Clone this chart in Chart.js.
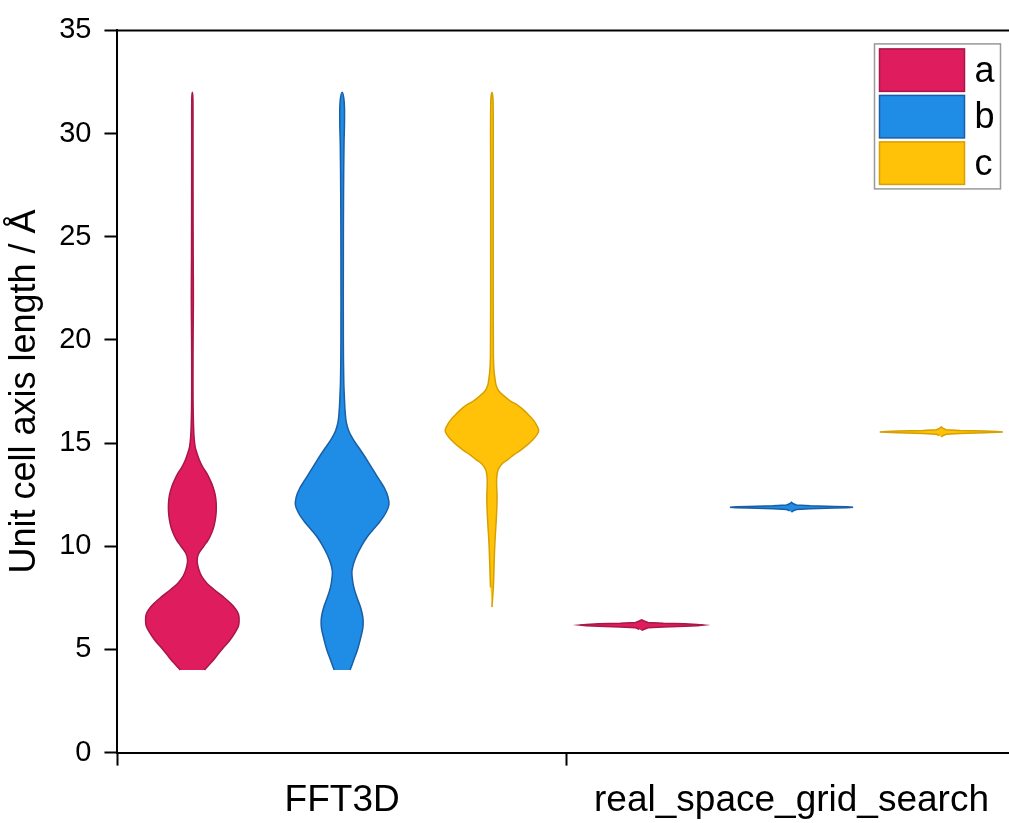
<!DOCTYPE html>
<html>
<head>
<meta charset="utf-8">
<script src="https://cdn.jsdelivr.net/npm/chart.js@4.4.1/dist/chart.umd.min.js"></script>
<style>
  html, body { margin: 0; padding: 0; background: #fff; }
  #wrap { width: 1009px; height: 823px; }
</style>
</head>
<body>
<div id="wrap"><canvas id="violinChart"></canvas></div>
<script>
const categories = ['FFT3D', 'real_space_grid_search'];
const seriesNames = ['a', 'b', 'c'];
const fillColors = ['#DE1C5E', '#1F8CE6', '#FFC208'];
const edgeColors = ['#A8164B', '#1A5EA6', '#D6A000'];
const yTicks = [0, 5, 10, 15, 20, 25, 30, 35];

// violin outlines: axis length (Å) and relative half-width (1 = widest)
const fftAy = [4.0, 4.26, 4.51, 4.83, 5.15, 5.47, 5.8, 6.12, 6.36, 6.68, 6.93, 7.25, 7.57, 7.89, 8.21, 8.54, 8.86, 9.18, 9.42, 9.66, 9.99, 10.31, 10.63, 10.96, 11.28, 11.68, 12.08, 12.48, 12.89, 13.21, 13.53, 13.85, 14.18, 14.5, 14.82, 15.3, 16.1, 17.1, 18.5, 20.0, 22.0, 24.0, 27.0, 30.0, 31.7, 32.0];
const fftAw = [0.26, 0.36, 0.46, 0.57, 0.69, 0.81, 0.91, 0.985, 1.0, 0.99, 0.935, 0.81, 0.65, 0.47, 0.31, 0.2, 0.14, 0.107, 0.107, 0.14, 0.24, 0.34, 0.41, 0.46, 0.49, 0.51, 0.51, 0.49, 0.44, 0.38, 0.31, 0.22, 0.15, 0.1, 0.06, 0.036, 0.022, 0.015, 0.014, 0.016, 0.022, 0.018, 0.015, 0.014, 0.012, 0];

const fftBy = [4.0, 4.5, 5.0, 5.5, 6.0, 6.3, 6.6, 7.0, 7.5, 8.0, 8.5, 8.8, 9.2, 9.6, 10.0, 10.4, 10.8, 11.2, 11.6, 12.0, 12.4, 12.8, 13.2, 13.6, 14.0, 14.4, 14.8, 15.2, 15.6, 16.0, 16.5, 17.2, 18.0, 20.0, 24.0, 27.0, 29.5, 30.5, 31.5, 32.0];
const fftBw = [0.17, 0.25, 0.33, 0.39, 0.44, 0.45, 0.44, 0.4, 0.32, 0.25, 0.215, 0.21, 0.25, 0.32, 0.41, 0.52, 0.66, 0.81, 0.93, 1.0, 0.98, 0.91, 0.8, 0.69, 0.58, 0.47, 0.35, 0.23, 0.14, 0.09, 0.065, 0.048, 0.035, 0.026, 0.026, 0.03, 0.04, 0.05, 0.045, 0];

const fftCy = [7.05, 8.0, 9.0, 10.0, 10.8, 11.6, 12.4, 13.2, 13.7, 14.0, 14.2, 14.45, 14.65, 14.9, 15.15, 15.4, 15.6, 15.85, 16.1, 16.35, 16.6, 16.85, 17.05, 17.3, 17.55, 17.8, 18.05, 18.5, 19.2, 24.0, 28.0, 31.5, 32.0];
const fftCw = [0, 0.03, 0.045, 0.06, 0.08, 0.1, 0.11, 0.1, 0.13, 0.22, 0.34, 0.48, 0.61, 0.75, 0.87, 0.96, 1.0, 0.96, 0.89, 0.79, 0.68, 0.54, 0.39, 0.25, 0.14, 0.09, 0.07, 0.045, 0.032, 0.027, 0.027, 0.025, 0];

const rsgsAy = [5.92, 5.98, 6.05, 6.09, 6.12, 6.15, 6.18, 6.21, 6.24, 6.27, 6.31, 6.38, 6.44];
const rsgsAw = [0, 0.04, 0.1, 0.35, 0.7, 0.9, 1.0, 0.9, 0.7, 0.35, 0.1, 0.04, 0];

const rsgsBy = [11.65, 11.72, 11.78, 11.82, 11.85, 11.87, 11.89, 11.91, 11.93, 11.96, 12.0, 12.06, 12.13];
const rsgsBw = [0, 0.03, 0.08, 0.3, 0.7, 0.9, 1.0, 0.9, 0.7, 0.3, 0.08, 0.03, 0];

const rsgsCy = [15.3, 15.37, 15.43, 15.47, 15.5, 15.52, 15.54, 15.56, 15.58, 15.61, 15.65, 15.71, 15.78];
const rsgsCw = [0, 0.03, 0.08, 0.3, 0.7, 0.9, 1.0, 0.9, 0.7, 0.3, 0.08, 0.03, 0];

const violins = [
    { cat: 0, series: 0, y: fftAy, w: fftAw },
    { cat: 0, series: 1, y: fftBy, w: fftBw },
    { cat: 0, series: 2, y: fftCy, w: fftCw },
    { cat: 1, series: 0, y: rsgsAy, w: rsgsAw },
    { cat: 1, series: 1, y: rsgsBy, w: rsgsBw },
    { cat: 1, series: 2, y: rsgsCy, w: rsgsCw },
];

// layout of violins inside a category (x axis units, 1 = one category)
const seriesOffset = [-1 / 3, 0, 1 / 3];
const maxHalfWidth = [0.104, 0.137];
const smoothing = [0.4, 0];
const FONT = "'Liberation Sans', Arial, sans-serif";

// closed outline: up the right side, back down the left side
function outline(v) {
    const centre = v.cat + 0.5 + seriesOffset[v.series];
    const scale = maxHalfWidth[v.cat];
    const pts = v.y.map((y, i) => ({ x: centre + v.w[i] * scale, y: y }));
    for (let i = v.y.length - 1; i >= 0; i--) {
        if (v.w[i] === 0) continue;
        pts.push({ x: centre - v.w[i] * scale, y: v.y[i] });
    }
    return pts;
}

const datasets = violins.map(v => ({
    label: seriesNames[v.series],
    data: outline(v),
    fill: 'shape',
    backgroundColor: fillColors[v.series],
    borderColor: edgeColors[v.series],
    borderWidth: 1.5,
    pointRadius: 0,
    pointHoverRadius: 0,
    tension: smoothing[v.cat],
}));

// top frame line + boxed legend
const frameAndLegend = {
    id: 'frameAndLegend',
    afterDraw(chart) {
        const { ctx, chartArea } = chart;
        ctx.save();
        ctx.strokeStyle = '#000';
        ctx.lineWidth = 2;
        ctx.beginPath();
        ctx.moveTo(chartArea.left, chartArea.top);
        ctx.lineTo(chartArea.right, chartArea.top);
        ctx.stroke();

        const boxX = chartArea.right - 134.5;
        const boxY = chartArea.top + 13.5;
        ctx.strokeStyle = '#999';
        ctx.lineWidth = 1.5;
        ctx.strokeRect(boxX, boxY, 126, 145);

        ctx.font = '36px ' + FONT;
        ctx.textBaseline = 'middle';
        ctx.textAlign = 'left';
        seriesNames.forEach((name, i) => {
            const sy = boxY + 5 + i * 46.5;
            ctx.fillStyle = fillColors[i];
            ctx.fillRect(boxX + 5, sy, 85, 42.5);
            ctx.strokeStyle = edgeColors[i];
            ctx.lineWidth = 1.5;
            ctx.strokeRect(boxX + 5, sy, 85, 42.5);
            ctx.fillStyle = '#000';
            ctx.fillText(name, boxX + 100, sy + 23);
        });
        ctx.restore();
    }
};

new Chart(document.getElementById('violinChart'), {
    type: 'line',
    data: { datasets: datasets },
    plugins: [frameAndLegend],
    options: {
        responsive: true,
        maintainAspectRatio: false,
        animation: false,
        layout: { padding: { top: 29, right: 0, bottom: -13, left: 0 } },
        plugins: {
            legend: { display: false },
            tooltip: { enabled: false },
        },
        scales: {
            x: {
                type: 'linear',
                min: 0,
                max: 1.984,
                afterBuildTicks: axis => {
                    axis.ticks = [0, 0.5, 1, 1.5].map(v => ({ value: v }));
                },
                border: { color: '#000', width: 2 },
                grid: {
                    drawOnChartArea: false,
                    drawTicks: true,
                    tickLength: 13,
                    tickWidth: 2,
                    color: '#000',
                    tickColor: ctx => (ctx.tick && Number.isInteger(ctx.tick.value)) ? '#000' : 'rgba(0,0,0,0)',
                },
                ticks: {
                    autoSkip: false,
                    maxRotation: 0,
                    padding: 13,
                    color: '#000',
                    font: { family: FONT, size: 37 },
                    callback: value => {
                        const idx = categories.findIndex((c, i) => Math.abs(i + 0.5 - value) < 1e-6);
                        return idx >= 0 ? categories[idx] : '';
                    },
                },
            },
            y: {
                min: 0,
                max: 35,
                afterBuildTicks: axis => {
                    axis.ticks = yTicks.map(v => ({ value: v }));
                },
                border: { color: '#000', width: 2 },
                grid: {
                    drawOnChartArea: false,
                    drawTicks: true,
                    tickLength: 13,
                    tickWidth: 2,
                    tickColor: '#000',
                },
                ticks: {
                    padding: 13,
                    color: '#000',
                    font: { family: FONT, size: 29 },
                },
                title: {
                    display: true,
                    text: 'Unit cell axis length / Å',
                    color: '#000',
                    font: { family: FONT, size: 36 },
                    padding: { top: 3, bottom: 0 },
                },
            },
        },
    },
});
</script>
</body>
</html>
